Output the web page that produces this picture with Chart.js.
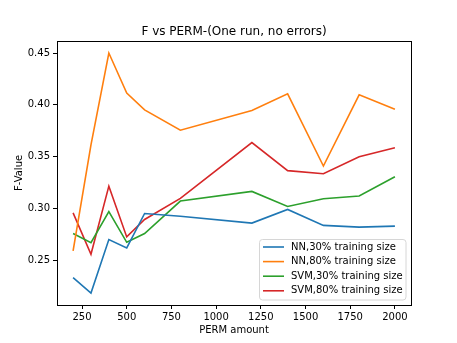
<!DOCTYPE html>
<html lang="en">
<head>
  <meta charset="UTF-8">
  <title>F vs PERM</title>
  <style>
    body {
      margin: 0;
      padding: 0;
      background-color: #fff;
    }
    canvas {
      display: block;
    }
  </style>
  <script src="https://cdn.jsdelivr.net/npm/chart.js"></script>
</head>
<body>
  <canvas id="chart" width="457" height="343"></canvas>

  <script>
    // data
    const permAmounts = [200, 300, 400, 500, 600, 800, 1200, 1400, 1600, 1800, 2000];
    const nn30 = [0.2333, 0.2184, 0.2700, 0.2619, 0.2952, 0.2925, 0.2859, 0.2991, 0.2837, 0.2820, 0.2830];
    const nn80 = [0.2591, 0.3613, 0.4500, 0.4113, 0.3952, 0.3755, 0.3945, 0.4106, 0.3410, 0.4097, 0.3958];
    const svm30 = [0.2758, 0.2671, 0.2971, 0.2674, 0.2758, 0.3072, 0.3165, 0.3020, 0.3094, 0.3120, 0.3307];
    const svm80 = [0.2958, 0.2558, 0.3216, 0.2726, 0.2894, 0.3098, 0.3636, 0.3365, 0.3336, 0.3500, 0.3587];
    const seriesLabels = ["NN,30% training size", "NN,80% training size", "SVM,30% training size", "SVM,80% training size"];
    const xTicks = [250, 500, 750, 1000, 1250, 1500, 1750, 2000];
    const yTicks = [0.25, 0.30, 0.35, 0.40, 0.45];

    const colors = ["#1f77b4", "#ff7f0e", "#2ca02c", "#d62728"];
    const font = "'DejaVu Sans', sans-serif";

    function toPoints(values) {
      return values.map((v, i) => ({ x: permAmounts[i], y: v }));
    }

    const datasets = [nn30, nn80, svm30, svm80].map((vals, i) => ({
      label: seriesLabels[i],
      data: toPoints(vals),
      borderColor: colors[i],
      backgroundColor: colors[i],
      borderWidth: 1.6,
      pointRadius: 0,
      tension: 0,
      fill: false
    }));

    // frame, title and the legend box inside the plot (like matplotlib)
    const extras = {
      id: "extras",
      afterDraw(chart) {
        const ctx = chart.ctx;
        const a = chart.chartArea;
        ctx.save();
        ctx.strokeStyle = "#000";
        ctx.lineWidth = 1;
        ctx.strokeRect(Math.round(a.left) + 0.5, Math.round(a.top) + 0.5,
          Math.round(a.right - a.left), Math.round(a.bottom - a.top));

        ctx.fillStyle = "#000";
        ctx.font = "12px " + font;
        ctx.textAlign = "center";
        ctx.textBaseline = "middle";
        ctx.fillText("F vs PERM-(One run, no errors)", (a.left + a.right) / 2, 32);

        // legend
        const bx = 259.5, by = 239.5, bw = 146.5, bh = 60.5, r = 3;
        ctx.beginPath();
        ctx.moveTo(bx + r, by);
        ctx.arcTo(bx + bw, by, bx + bw, by + bh, r);
        ctx.arcTo(bx + bw, by + bh, bx, by + bh, r);
        ctx.arcTo(bx, by + bh, bx, by, r);
        ctx.arcTo(bx, by, bx + bw, by, r);
        ctx.closePath();
        ctx.fillStyle = "rgba(255,255,255,0.8)";
        ctx.fill();
        ctx.strokeStyle = "#d6d6d6";
        ctx.stroke();

        ctx.font = "10px " + font;
        ctx.textAlign = "left";
        chart.data.datasets.forEach((ds, i) => {
          const y = 247 + i * 14.6;
          ctx.strokeStyle = ds.borderColor;
          ctx.lineWidth = 1.6;
          ctx.beginPath();
          ctx.moveTo(263, y);
          ctx.lineTo(284, y);
          ctx.stroke();
          ctx.fillStyle = "#000";
          ctx.fillText(ds.label, 291, y);
        });
        ctx.restore();
      }
    };

    new Chart(document.getElementById("chart").getContext("2d"), {
      type: "line",
      data: { datasets: datasets },
      options: {
        responsive: false,
        animation: false,
        layout: { padding: { top: 41, right: 46, left: 0, bottom: 0 } },
        plugins: {
          legend: { display: false },
          title: { display: false },
          tooltip: { enabled: false }
        },
        scales: {
          x: {
            type: "linear",
            min: 110,
            max: 2090,
            afterBuildTicks: (s) => { s.ticks = xTicks.map(v => ({ value: v })); },
            afterFit: (s) => { s.height = 38; },
            grid: { drawOnChartArea: false, drawTicks: true, tickLength: 4, color: "#000" },
            border: { display: true, color: "#000" },
            ticks: { color: "#000", font: { family: font, size: 10 }, padding: 2, maxRotation: 0, callback: (v) => String(v) },
            title: { display: true, text: "PERM amount", color: "#000", font: { family: font, size: 10 }, padding: { top: 0, bottom: 7 } }
          },
          y: {
            min: 0.2069,
            max: 0.4616,
            afterBuildTicks: (s) => { s.ticks = yTicks.map(v => ({ value: v })); },
            afterFit: (s) => { s.width = 57; },
            grid: { drawOnChartArea: false, drawTicks: true, tickLength: 4, color: "#000" },
            border: { display: true, color: "#000" },
            ticks: { color: "#000", font: { family: font, size: 10 }, padding: 3, callback: (v) => v.toFixed(2) },
            title: { display: true, text: "F-Value", color: "#000", font: { family: font, size: 10 }, padding: { top: 13, bottom: 0 } }
          }
        }
      },
      plugins: [extras]
    });
  </script>
</body>
</html>
